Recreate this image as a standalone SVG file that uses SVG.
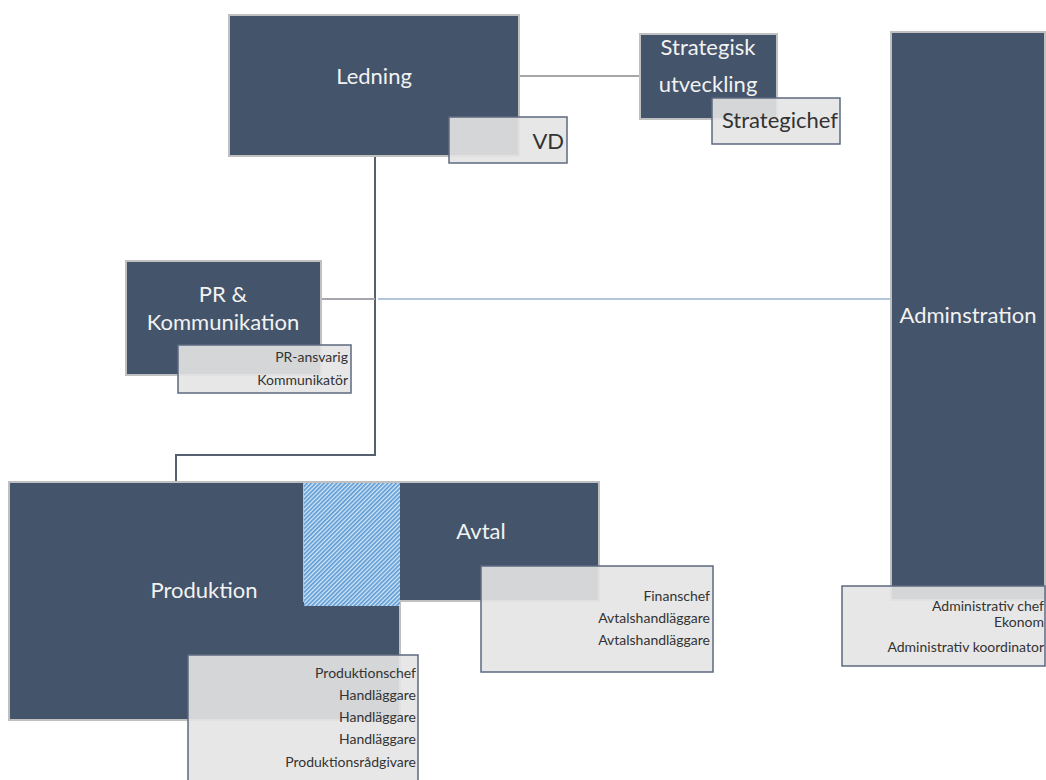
<svg xmlns="http://www.w3.org/2000/svg" width="1046" height="780" viewBox="0 0 1046 780">
<style>
.unit{fill:#44546a;stroke:#c0c0c0;stroke-width:2}
.sub{fill:#e4e4e4;fill-opacity:0.9;stroke:#5d6a80;stroke-width:1.5}
.t{font-family:Lato,"Liberation Sans",sans-serif;fill:#f2f2f2;text-anchor:middle;font-size:22px}
.s{font-family:Lato,"Liberation Sans",sans-serif;fill:#333;text-anchor:end;font-size:14px}
.c{fill:none;stroke-width:2}
</style>
<defs>
<pattern id="hatch" width="3" height="3" patternUnits="userSpaceOnUse" patternTransform="rotate(45)">
<rect width="3" height="3" fill="#dbe9f7"/>
<rect width="1.7" height="3" fill="#5b9bd5"/>
</pattern>
</defs>
<rect width="1046" height="780" fill="#fff"/>
<g id="connectors">
<line class="c" x1="519" y1="76" x2="640" y2="76" stroke="#a6a6a6"/>
<polyline class="c" points="375,156 375,455 176,455 176,482" stroke="#56606e"/>
<line class="c" x1="321" y1="299" x2="375" y2="299" stroke="#a6a6ae"/>
<line class="c" x1="378" y1="299" x2="891" y2="299" stroke="#b4c6dc"/>
</g>
<g id="ledning">
<rect class="unit" x="229" y="15" width="290" height="141"/>
<text class="t" x="374" y="84">Ledning</text>
<rect class="sub" x="449" y="117" width="118" height="46"/>
<text class="s" x="564" y="149" style="font-size:22px">VD</text>
</g>
<g id="strategisk">
<rect class="unit" x="640" y="34" width="137" height="85"/>
<text class="t" x="708" y="55">Strategisk</text>
<text class="t" x="708" y="92">utveckling</text>
<rect class="sub" x="712" y="98" width="128" height="46"/>
<text class="s" x="838" y="128" style="font-size:22px">Strategichef</text>
</g>
<g id="pr">
<rect class="unit" x="126" y="261" width="195" height="114"/>
<text class="t" x="223" y="302">PR &amp;</text>
<text class="t" x="223" y="330">Kommunikation</text>
<rect class="sub" x="178" y="345" width="173" height="48"/>
<text class="s" x="348" y="362">PR-ansvarig</text>
<text class="s" x="348" y="385">Kommunikatör</text>
</g>
<g id="adminstration">
<rect class="unit" x="891" y="32" width="154" height="568"/>
<text class="t" x="968" y="323">Adminstration</text>
<rect class="sub" x="842" y="586" width="203" height="80"/>
<text class="s" x="1044" y="611">Administrativ chef</text>
<text class="s" x="1044" y="627">Ekonom</text>
<text class="s" x="1044" y="652">Administrativ   koordinator</text>
</g>
<g id="produktion">
<rect class="unit" x="9" y="482" width="391" height="238"/>
<text class="t" x="204" y="598">Produktion</text>
</g>
<g id="avtal">
<rect class="unit" x="304" y="482" width="295" height="119"/>
<rect x="304" y="483" width="96" height="123" fill="url(#hatch)"/>
<text class="t" x="481" y="539">Avtal</text>
<rect class="sub" x="481" y="566" width="232" height="106"/>
<text class="s" x="710" y="601">Finanschef</text>
<text class="s" x="710" y="623">Avtalshandläggare</text>
<text class="s" x="710" y="645">Avtalshandläggare</text>
</g>
<g id="produktion-roles">
<rect class="sub" x="188" y="655" width="230" height="130"/>
<text class="s" x="416" y="678">Produktionschef</text>
<text class="s" x="416" y="700">Handläggare</text>
<text class="s" x="416" y="722">Handläggare</text>
<text class="s" x="416" y="744">Handläggare</text>
<text class="s" x="416" y="767">Produktionsrådgivare</text>
</g>
</svg>
